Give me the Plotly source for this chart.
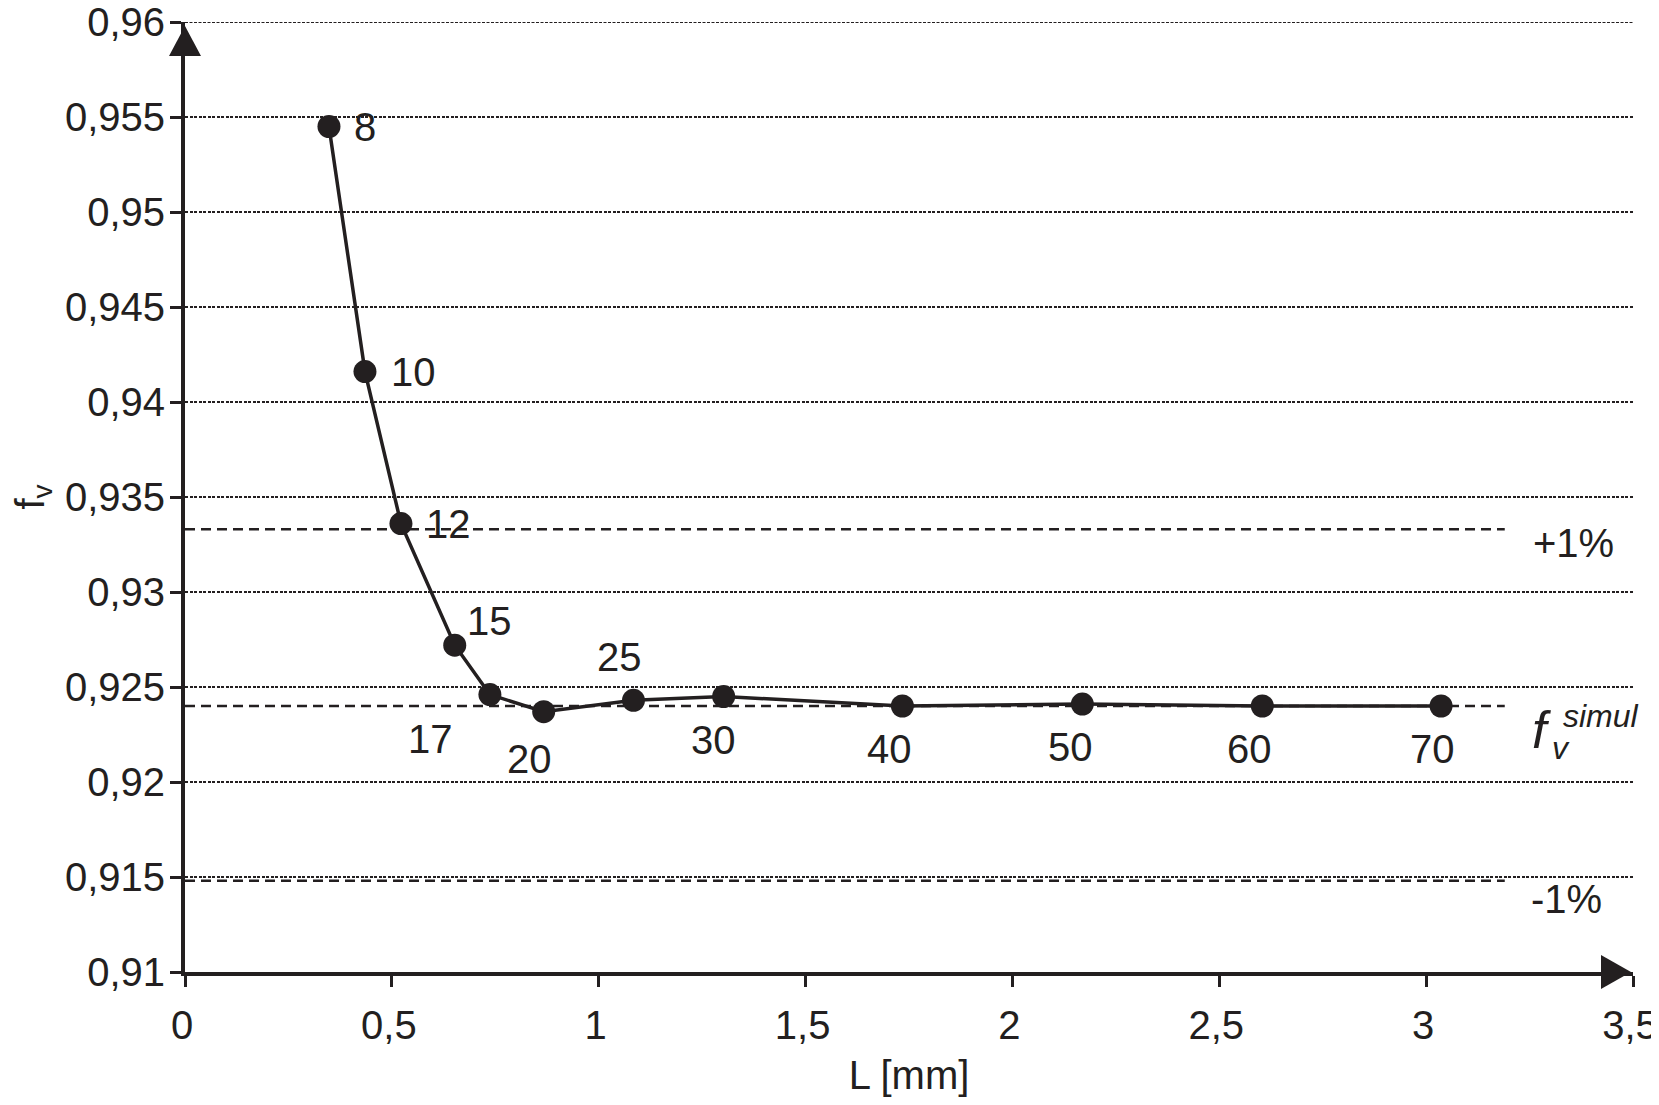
import plotly.graph_objects as go

# ---- data ----
n_labels = ["8", "10", "12", "15", "17", "20", "25", "30", "40", "50", "60", "70"]
L_mm = [0.348, 0.435, 0.522, 0.652, 0.737, 0.867, 1.084, 1.302, 1.734, 2.169, 2.604, 3.036]
fv = [0.9545, 0.9416, 0.9336, 0.9272, 0.9246, 0.9237, 0.9243, 0.9245, 0.9240, 0.9241, 0.9240, 0.9240]

fv_simul = 0.9240
fv_plus1 = 0.9333
fv_minus1 = 0.9148
ref_line_end = 3.19

y_tickvals = [0.91, 0.915, 0.92, 0.925, 0.93, 0.935, 0.94, 0.945, 0.95, 0.955, 0.96]
y_ticktext = ["0,91", "0,915", "0,92", "0,925", "0,93", "0,935", "0,94", "0,945", "0,95", "0,955", "0,96"]
x_tickvals = [0, 0.5, 1, 1.5, 2, 2.5, 3, 3.5]
x_ticktext = ["0", "0,5", "1", "1,5", "2", "2,5", "3", "3,5"]

# ---- styling ----
INK = "#231f20"
FONT = "Liberation Sans, Arial, Helvetica, sans-serif"
FS = 40
BODY = 8  # default page margin of the html body
W, H = 1659 - BODY, 1105 - 2 * BODY
ML, MT = 185 - BODY, 22 - BODY
PW, PH = 1448, 950
MR, MB = W - ML - PW, H - MT - PH
GRID_DASH = "3px,1.5px"

# pixel offsets (dx right, dy up) of each point label relative to its marker
label_offsets = {
    "8": (36, 0), "10": (49, 0), "12": (48, 0), "15": (35, 24),
    "17": (-59, -44), "20": (-14, -47), "25": (-14, 43), "30": (-10, -43),
    "40": (-13, -43), "50": (-12, -43), "60": (-13, -43), "70": (-9, -43),
}

fig = go.Figure()

fig.add_trace(go.Scatter(
    x=L_mm, y=fv, mode="lines+markers",
    line=dict(color=INK, width=3.5),
    marker=dict(color=INK, size=23),
    showlegend=False, hoverinfo="x+y",
))

# top grid line (plotly omits the one on the plot edge)
fig.add_shape(type="line", xref="paper", yref="y", x0=0, x1=1, y0=y_tickvals[-1], y1=y_tickvals[-1],
              line=dict(color=INK, width=1.8, dash=GRID_DASH), layer="below")

# reference dashed lines
for yv in (fv_plus1, fv_simul, fv_minus1):
    fig.add_shape(type="line", xref="x", yref="y", x0=0, x1=ref_line_end, y0=yv, y1=yv,
                  line=dict(color=INK, width=2.5, dash="10px,6px"), layer="below")

# axis arrow heads (paper-referenced so they are not clipped)
fig.add_shape(type="path", xref="paper", yref="paper", xsizemode="pixel", ysizemode="pixel",
              xanchor=0, yanchor=1, path="M -16,-34 L 16,-34 L 0,-4 Z",
              fillcolor=INK, line=dict(width=0), layer="above")
fig.add_shape(type="path", xref="paper", yref="paper", xsizemode="pixel", ysizemode="pixel",
              xanchor=1, yanchor=0, path="M -32,17 L -32,-17 L -2,0 Z",
              fillcolor=INK, line=dict(width=0), layer="above")

annotations = []
for lab, xv, yv in zip(n_labels, L_mm, fv):
    dx, dy = label_offsets[lab]
    annotations.append(dict(x=xv, y=yv, xref="x", yref="y", text=lab, showarrow=False,
                            xshift=dx, yshift=dy, font=dict(size=FS, color=INK, family=FONT)))


def paper(px, py):
    # px, py: screen pixel positions in the reference
    return (px - BODY - ML) / PW, (MT + PH - (py - BODY)) / PH


for txt, (px, py), size in [
    ("+1%", (1573, 543), FS),
    ("-1%", (1566, 899), FS),
    ("<i>f</i>", (1541, 730), 52),
    ("<i>v</i>", (1561, 748), 32),
    ("<i>simul</i>", (1601, 716), 32),
]:
    xp, yp = paper(px, py)
    annotations.append(dict(x=xp, y=yp, xref="paper", yref="paper", text=txt, showarrow=False,
                            xanchor="center", yanchor="middle",
                            font=dict(size=size, color=INK, family=FONT)))

fig.update_layout(
    width=W, height=H,
    margin=dict(l=ML, r=MR, t=MT, b=MB, autoexpand=False),
    paper_bgcolor="white", plot_bgcolor="white",
    font=dict(family=FONT, size=FS, color=INK),
    annotations=annotations,
    xaxis=dict(
        range=[0, 3.5], tickvals=x_tickvals, ticktext=x_ticktext,
        showline=True, linecolor=INK, linewidth=4,
        ticks="outside", ticklen=11, tickwidth=2.5, tickcolor=INK,
        showgrid=False, zeroline=False, ticklabelstandoff=4, ticklabelshift=-3,
        ticklabeloverflow="allow",
        title=dict(text="L [mm]", font=dict(size=FS, family=FONT, color=INK), standoff=28),
        tickfont=dict(size=FS, family=FONT, color=INK),
    ),
    yaxis=dict(
        range=[0.91, 0.96], tickvals=y_tickvals, ticktext=y_ticktext,
        showline=True, linecolor=INK, linewidth=4,
        ticks="outside", ticklen=11, tickwidth=2.5, tickcolor=INK,
        showgrid=True, gridcolor=INK, gridwidth=1.8, griddash=GRID_DASH,
        zeroline=False, ticklabelstandoff=-3, ticklabeloverflow="allow",
        title=dict(text="f<sub>v</sub>", font=dict(size=FS, family=FONT, color=INK), standoff=33),
        tickfont=dict(size=FS, family=FONT, color=INK),
    ),
)

fig.write_html("out.html")
